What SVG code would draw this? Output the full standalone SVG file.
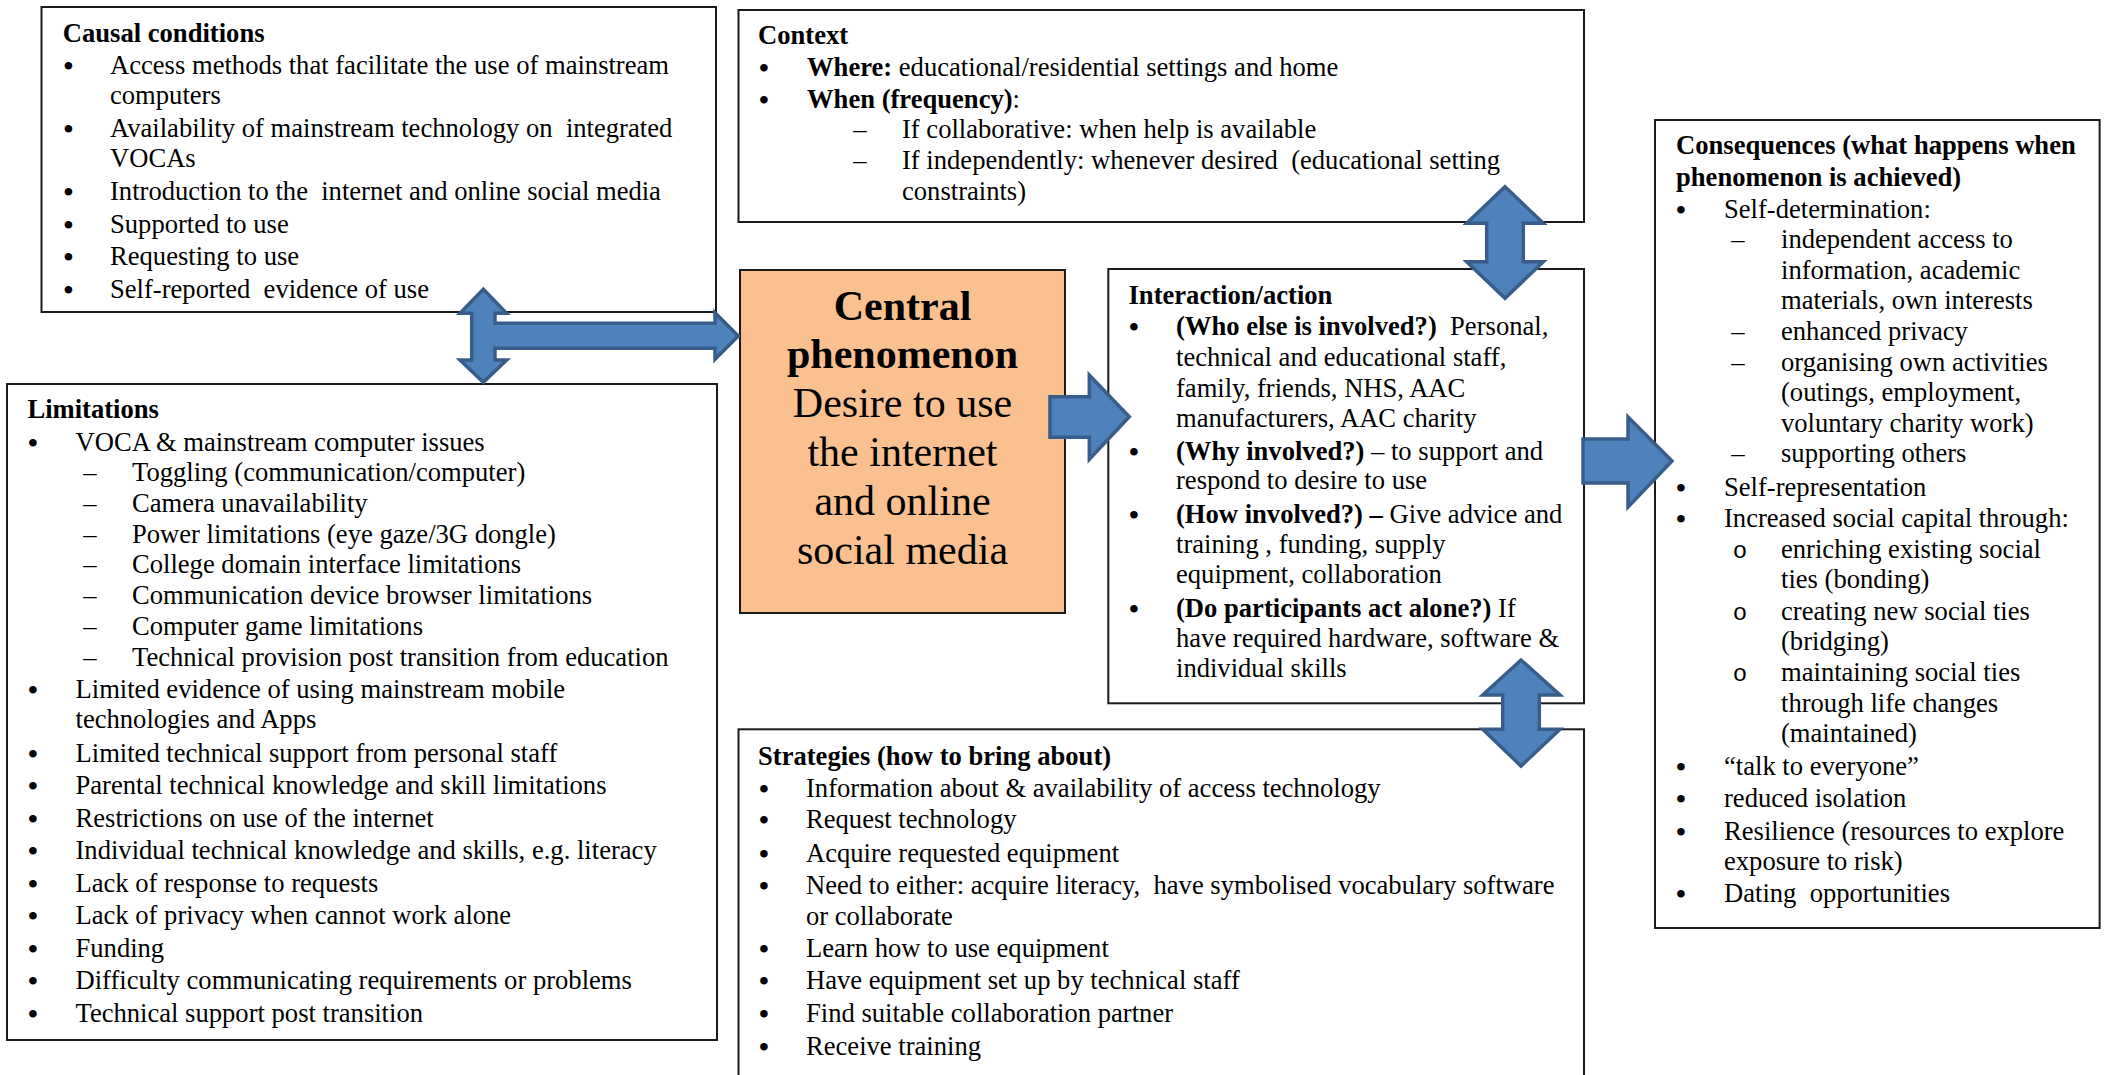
<svg xmlns="http://www.w3.org/2000/svg" width="2107" height="1075" viewBox="0 0 2107 1075">
<style>
text { font-family: "Liberation Serif", "Times New Roman", serif; font-size: 26.6px; fill: #000; white-space: pre; }
.b { font-weight: bold; }
.bu { text-anchor: middle; font-size: 28px; font-weight: bold; }
.da { text-anchor: middle; }
.o { font-family: "Liberation Mono", "Courier New", monospace; font-size: 24px; text-anchor: middle; }
.box { fill: #fff; stroke: #1a1a1a; stroke-width: 2; }
.central { fill: #FAC090; stroke: #1a1a1a; stroke-width: 2; }
.ctr { font-size: 42px; text-anchor: middle; }
.arrow { fill: #4F81BD; stroke: #385D8A; stroke-width: 3.5; stroke-linejoin: miter; }
</style>
<rect width="2107" height="1075" fill="#fff"/>

<g id="causal">
<rect class="box" x="41.5" y="7" width="674.5" height="305"/>
<text class="b" x="62.8" y="42">Causal conditions</text>
<text class="bu" x="68.4" y="75">•</text><text x="110" y="74">Access methods that facilitate the use of mainstream</text>
<text x="110" y="104">computers</text>
<text class="bu" x="68.4" y="138">•</text><text x="110" y="137">Availability of mainstream technology on  integrated</text>
<text x="110" y="167">VOCAs</text>
<text class="bu" x="68.4" y="201">•</text><text x="110" y="200">Introduction to the  internet and online social media</text>
<text class="bu" x="68.4" y="234">•</text><text x="110" y="233">Supported to use</text>
<text class="bu" x="68.4" y="266">•</text><text x="110" y="265">Requesting to use</text>
<text class="bu" x="68.4" y="299">•</text><text x="110" y="298">Self-reported  evidence of use</text>
</g>

<g id="limitations">
<rect class="box" x="7" y="384" width="710" height="656"/>
<text class="b" x="27.4" y="418">Limitations</text>
<text class="bu" x="33" y="452">•</text><text x="75.5" y="451">VOCA &amp; mainstream computer issues</text>
<text class="da" x="90" y="481">–</text><text x="132" y="481">Toggling (communication/computer)</text>
<text class="da" x="90" y="512">–</text><text x="132" y="512">Camera unavailability</text>
<text class="da" x="90" y="543">–</text><text x="132" y="543">Power limitations (eye gaze/3G dongle)</text>
<text class="da" x="90" y="573">–</text><text x="132" y="573">College domain interface limitations</text>
<text class="da" x="90" y="604">–</text><text x="132" y="604">Communication device browser limitations</text>
<text class="da" x="90" y="635">–</text><text x="132" y="635">Computer game limitations</text>
<text class="da" x="90" y="666">–</text><text x="132" y="666">Technical provision post transition from education</text>
<text class="bu" x="33" y="699">•</text><text x="75.5" y="698">Limited evidence of using mainstream mobile</text>
<text x="75.5" y="728">technologies and Apps</text>
<text class="bu" x="33" y="763">•</text><text x="75.5" y="762">Limited technical support from personal staff</text>
<text class="bu" x="33" y="795">•</text><text x="75.5" y="794">Parental technical knowledge and skill limitations</text>
<text class="bu" x="33" y="828">•</text><text x="75.5" y="827">Restrictions on use of the internet</text>
<text class="bu" x="33" y="860">•</text><text x="75.5" y="859">Individual technical knowledge and skills, e.g. literacy</text>
<text class="bu" x="33" y="893">•</text><text x="75.5" y="892">Lack of response to requests</text>
<text class="bu" x="33" y="925">•</text><text x="75.5" y="924">Lack of privacy when cannot work alone</text>
<text class="bu" x="33" y="958">•</text><text x="75.5" y="957">Funding</text>
<text class="bu" x="33" y="990">•</text><text x="75.5" y="989">Difficulty communicating requirements or problems</text>
<text class="bu" x="33" y="1023">•</text><text x="75.5" y="1022">Technical support post transition</text>
</g>

<g id="context">
<rect class="box" x="738.5" y="10" width="845.5" height="212"/>
<text class="b" x="758" y="44">Context</text>
<text class="bu" x="764" y="77">•</text><text x="807" y="76"><tspan class="b">Where:</tspan> educational/residential settings and home</text>
<text class="bu" x="764" y="109">•</text><text x="807" y="108"><tspan class="b">When (frequency)</tspan>:</text>
<text class="da" x="860" y="138">–</text><text x="902" y="138">If collaborative: when help is available</text>
<text class="da" x="860" y="169">–</text><text x="902" y="169">If independently: whenever desired  (educational setting</text>
<text x="902" y="200">constraints)</text>
</g>

<g id="central">
<rect class="central" x="740" y="270" width="325" height="343"/>
<text class="ctr b" x="902.5" y="320">Central</text>
<text class="ctr b" x="902.5" y="368">phenomenon</text>
<text class="ctr" x="902.5" y="417">Desire to use</text>
<text class="ctr" x="902.5" y="466">the internet</text>
<text class="ctr" x="902.5" y="515">and online</text>
<text class="ctr" x="902.5" y="564">social media</text>
</g>

<g id="interaction">
<rect class="box" x="1108.3" y="269" width="475.7" height="434.3"/>
<text class="b" x="1128.5" y="304">Interaction/action</text>
<text class="bu" x="1134" y="336">•</text><text x="1176" y="335"><tspan class="b">(Who else is involved?)</tspan>  Personal,</text>
<text x="1176" y="366">technical and educational staff,</text>
<text x="1176" y="397">family, friends, NHS, AAC</text>
<text x="1176" y="427">manufacturers, AAC charity</text>
<text class="bu" x="1134" y="461">•</text><text x="1176" y="460"><tspan class="b">(Why involved?)</tspan> – to support and</text>
<text x="1176" y="489">respond to desire to use</text>
<text class="bu" x="1134" y="524">•</text><text x="1176" y="523"><tspan class="b">(How involved?) –</tspan> Give advice and</text>
<text x="1176" y="553">training , funding, supply</text>
<text x="1176" y="583">equipment, collaboration</text>
<text class="bu" x="1134" y="618">•</text><text x="1176" y="617"><tspan class="b">(Do participants act alone?)</tspan> If</text>
<text x="1176" y="647">have required hardware, software &amp;</text>
<text x="1176" y="677">individual skills</text>
</g>

<g id="strategies">
<rect class="box" x="738.5" y="729.3" width="845.5" height="360"/>
<text class="b" x="758" y="765">Strategies (how to bring about)</text>
<text class="bu" x="764" y="798">•</text><text x="806" y="797">Information about &amp; availability of access technology</text>
<text class="bu" x="764" y="829">•</text><text x="806" y="828">Request technology</text>
<text class="bu" x="764" y="863">•</text><text x="806" y="862">Acquire requested equipment</text>
<text class="bu" x="764" y="895">•</text><text x="806" y="894">Need to either: acquire literacy,  have symbolised vocabulary software</text>
<text x="806" y="925">or collaborate</text>
<text class="bu" x="764" y="958">•</text><text x="806" y="957">Learn how to use equipment</text>
<text class="bu" x="764" y="990">•</text><text x="806" y="989">Have equipment set up by technical staff</text>
<text class="bu" x="764" y="1023">•</text><text x="806" y="1022">Find suitable collaboration partner</text>
<text class="bu" x="764" y="1056">•</text><text x="806" y="1055">Receive training</text>
</g>

<g id="consequences">
<rect class="box" x="1655" y="120" width="444.6" height="808"/>
<text class="b" x="1676" y="154">Consequences (what happens when</text>
<text class="b" x="1676" y="186">phenomenon is achieved)</text>
<text class="bu" x="1681" y="219">•</text><text x="1724" y="218">Self-determination:</text>
<text class="da" x="1738" y="248">–</text><text x="1781" y="248">independent access to</text>
<text x="1781" y="279">information, academic</text>
<text x="1781" y="309">materials, own interests</text>
<text class="da" x="1738" y="340">–</text><text x="1781" y="340">enhanced privacy</text>
<text class="da" x="1738" y="371">–</text><text x="1781" y="371">organising own activities</text>
<text x="1781" y="401">(outings, employment,</text>
<text x="1781" y="432">voluntary charity work)</text>
<text class="da" x="1738" y="462">–</text><text x="1781" y="462">supporting others</text>
<text class="bu" x="1681" y="497">•</text><text x="1724" y="496">Self-representation</text>
<text class="bu" x="1681" y="528">•</text><text x="1724" y="527">Increased social capital through:</text>
<text class="o" x="1740" y="558">o</text><text x="1781" y="558">enriching existing social</text>
<text x="1781" y="588">ties (bonding)</text>
<text class="o" x="1740" y="620">o</text><text x="1781" y="620">creating new social ties</text>
<text x="1781" y="650">(bridging)</text>
<text class="o" x="1740" y="681">o</text><text x="1781" y="681">maintaining social ties</text>
<text x="1781" y="712">through life changes</text>
<text x="1781" y="742">(maintained)</text>
<text class="bu" x="1681" y="776">•</text><text x="1724" y="775">“talk to everyone”</text>
<text class="bu" x="1681" y="808">•</text><text x="1724" y="807">reduced isolation</text>
<text class="bu" x="1681" y="841">•</text><text x="1724" y="840">Resilience (resources to explore</text>
<text x="1724" y="870">exposure to risk)</text>
<text class="bu" x="1681" y="903">•</text><text x="1724" y="902">Dating  opportunities</text>
</g>

<g id="connectors">
<path class="arrow" d="M483.3,289.3 L506.7,313.3 L495,313.3 L495,323.3 L715,323.3 L715,312.7 L738.3,336 L715,359.3 L715,348.3 L495,348.3 L495,360 L506.7,360 L483.3,382.3 L460,360 L471.7,360 L471.7,313.3 L460,313.3 Z"/>
<path class="arrow" d="M1505,186.7 L1543.3,223.3 L1523.3,223.3 L1523.3,261.7 L1543.3,261.7 L1505,298.3 L1466.7,261.7 L1486.7,261.7 L1486.7,223.3 L1466.7,223.3 Z"/>
<path class="arrow" d="M1521,660 L1560,695 L1539.3,695 L1539.3,729.3 L1560,729.3 L1521,766 L1482.7,729.3 L1502.7,729.3 L1502.7,695 L1482.7,695 Z"/>
<path class="arrow" d="M1050,396.7 L1089.3,396.7 L1089.3,375 L1129.3,416.7 L1089.3,459.3 L1089.3,437.3 L1050,437.3 Z"/>
<path class="arrow" d="M1583,439 L1628,439 L1628,417 L1672,461 L1628,507 L1628,483 L1583,483 Z"/>
</g>
</svg>
